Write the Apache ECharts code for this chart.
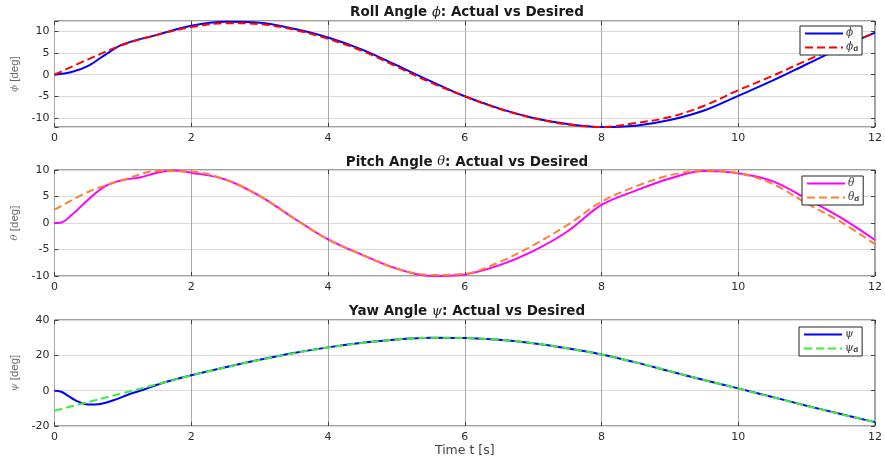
<!DOCTYPE html>
<html><head><meta charset="utf-8">
<script src="https://cdn.jsdelivr.net/npm/echarts@6/dist/echarts.min.js"></script>
<style>html,body{margin:0;padding:0;background:#fff}#c{width:885px;height:459px}</style>
</head><body><div id="c"></div><script>
// ---- data ----
const tCommon = [0,0.5,1,1.5,2,2.5,3,3.5,4,4.5,5,5.5,6,6.5,7,7.5,8,8.5,9,9.5,10,10.5,11,11.5,12];

const rollDesired = [0,3.6,6.9,9.2,11.0,11.9,11.7,10.4,8.3,5.5,1.9,-1.8,-5.0,-7.9,-10.0,-11.5,-12.1,-11.2,-9.8,-7.2,-3.6,-0.3,3.3,6.6,9.6];
const tRollActual = [0,0.25,0.5,0.75,1,1.5,2,2.5,3,3.5,4,4.5,5,5.5,6,6.5,7,7.5,8,8.5,9,9.5,10,10.5,11,11.5,12];
const rollActual = [0,0.6,2.1,4.7,7.0,9.2,11.3,12.2,12.0,10.6,8.6,5.8,2.2,-1.5,-5.0,-7.8,-10.0,-11.4,-12.1,-11.8,-10.5,-8.3,-4.9,-1.4,2.4,6.2,9.7];

const pitchDesired = [2.5,5.9,8.1,9.8,9.7,8.2,5.1,0.9,-3.1,-6.0,-8.6,-9.8,-9.6,-7.4,-4.2,-0.4,4.0,6.9,9.0,9.9,9.4,7.4,3.7,0.2,-4.0];
const tPitchActual = [0,0.1,0.25,0.5,0.75,1,1.25,1.5,1.75,2,2.5,3,3.5,4,4.5,5,5.5,6,6.5,7,7.5,8,8.5,9,9.5,10,10.5,11,11.5,12];
const pitchActual = [0,0.1,1.5,4.5,7.0,8.1,8.6,9.5,9.9,9.5,8.2,5.1,0.9,-3.1,-6.0,-8.6,-10.0,-9.7,-8.0,-5.3,-1.6,3.4,6.1,8.4,9.8,9.4,7.9,4.6,1.0,-3.2];

const yawDesired = [-11.4,-6.4,-1.4,3.6,8.6,13.2,17.4,21.2,24.4,27.0,28.9,30.0,29.8,28.8,26.9,24.0,20.5,16.0,11.0,6.0,1.2,-3.7,-8.6,-13.3,-17.8];
const tYawActual = [0,0.1,0.2,0.3,0.4,0.5,0.6,0.75,0.9,1.1,1.3,1.6,2,2.5,3,3.5,4,4.5,5,5.5,6,6.5,7,7.5,8,8.5,9,9.5,10,10.5,11,11.5,12];
const yawActual = [0,-0.6,-3.0,-5.4,-7.1,-7.9,-7.8,-6.8,-4.9,-1.9,0.5,4.6,8.7,13.3,17.5,21.3,24.5,27.1,29.0,30.0,29.8,28.8,26.9,24.0,20.5,16.0,11.0,6.0,1.3,-3.6,-8.5,-13.2,-17.8];

const xTicks = {min:0, max:12, interval:2};
const yRange = [{min:-12.1, max:12.4}, {min:-10, max:10, interval:5}, {min:-20, max:40, interval:20}];
const titles = [['Roll Angle ', 'ϕ'], ['Pitch Angle ', 'θ'], ['Yaw Angle ', 'ψ']];
const yNames = ['ϕ', 'θ', 'ψ'];
const legendNames = [['phi','phi_d'], ['theta','theta_d'], ['psi','psi_d']];
const legendGlyph = {phi:'ϕ', theta:'θ', psi:'ψ'};

// ---- layout ----
const FONT = 'DejaVu Sans, Liberation Sans, sans-serif';
const FONT2 = 'Liberation Sans, Arial, sans-serif';
const grids = [{top:21}, {top:170}, {top:320}].map(g => ({
  left:54.5, right:6, top:g.top, height:106, show:true, borderColor:'#404040', borderWidth:1, backgroundColor:'#fff'
}));
const xAxes = [], yAxes = [];
for (let i = 0; i < 3; i++) {
  xAxes.push({
    type:'value', gridIndex:i, ...xTicks,
    axisLine:{show:false, onZero:false},
    axisTick:{show:true, inside:true, length:4, lineStyle:{color:'#404040'}},
    axisLabel:{color:'#2a2a2a', fontSize:11, margin:6, fontFamily:FONT},
    splitLine:{show:true, lineStyle:{color:'#a8a8a8', width:1}},
    name: i === 2 ? 'Time t [s]' : '', nameLocation:'middle', nameGap:17,
    nameTextStyle:{color:'#444', fontSize:12.5, fontFamily:FONT}
  });
  xAxes.push({
    type:'value', gridIndex:i, position:'top', ...xTicks,
    axisLine:{show:false, onZero:false}, axisLabel:{show:false}, splitLine:{show:false},
    axisTick:{show:true, inside:true, length:4, lineStyle:{color:'#404040'}}
  });
  const r = yRange[i];
  yAxes.push({
    type:'value', gridIndex:i, ...r,
    axisLine:{show:false, onZero:false},
    axisTick:{show:true, inside:true, length:4, lineStyle:{color:'#404040'}},
    axisLabel:{color:'#2a2a2a', fontSize:11, margin:5, fontFamily:FONT,
      formatter: v => (Math.abs(v % 5) < 1e-6 ? String(Math.round(v)) : '')},
    splitLine:{show:true, lineStyle:{color:'#dadada', width:1}},
    name: '{g|' + yNames[i] + '} [deg]', nameLocation:'middle', nameGap:29,
    nameTextStyle:{color:'#666', fontSize:11.5, fontFamily:FONT2,
      rich:{g:{fontFamily:'DejaVu Serif', fontStyle:'italic', fontSize:10, color:'#777'}}}
  });
  yAxes.push({
    type:'value', gridIndex:i, position:'right', ...r,
    axisLine:{show:false, onZero:false}, axisLabel:{show:false}, splitLine:{show:false},
    axisTick:{show:true, inside:true, length:4, lineStyle:{color:'#404040'}}
  });
}

const pairs = (t, v) => t.map((x, k) => [x, v[k]]);
function line(name, idx, t, v, color, dashed) {
  return {
    name, type:'line', xAxisIndex:idx*2, yAxisIndex:idx*2, data:pairs(t, v),
    showSymbol:false, symbol:'none', smooth:0.35, clip:true, z: dashed ? 3 : 2,
    lineStyle:{color, width:2, type: dashed ? [8,4] : 'solid'},
    itemStyle:{color}, emphasis:{disabled:true}
  };
}
const series = [
  line('phi', 0, tRollActual, rollActual, '#0000ff', false),
  line('phi_d', 0, tCommon, rollDesired, '#ff0000', true),
  line('theta', 1, tPitchActual, pitchActual, '#ff00ff', false),
  line('theta_d', 1, tCommon, pitchDesired, '#ff8033', true),
  line('psi', 2, tYawActual, yawActual, '#0000ff', false),
  line('psi_d', 2, tCommon, yawDesired, '#3cf03c', true)
];

const legendPos = [{left:800, top:26}, {left:802, top:176}, {left:799, top:327}];
const legends = legendNames.map((names, i) => ({
  data:names, orient:'vertical', left:legendPos[i].left, top:legendPos[i].top,
  itemWidth:38, itemHeight:12, itemGap:2, padding:[2,4,2,4],
  itemStyle:{opacity:0, borderWidth:0},
  borderColor:'#222', borderWidth:1, backgroundColor:'#fff', selectedMode:false,
  formatter: n => n.endsWith('_d') ? '{g|' + legendGlyph[n.slice(0,-2)] + '}{s|d}' : '{g|' + legendGlyph[n] + '}',
  textStyle:{color:'#333', fontSize:11, fontFamily:FONT2, padding:[0,0,0,-2],
    rich:{g:{fontFamily:'DejaVu Serif', fontStyle:'italic', fontSize:10.5, color:'#333', verticalAlign:'middle'},
          s:{fontSize:8, fontWeight:'bold', color:'#333', verticalAlign:'bottom', lineHeight:8, padding:[4,0,0,0]}}}
}));

const titleY = [12.5, 162, 311.5];
const graphic = titles.map((t, i) => ({
  type:'text', x:467, y:titleY[i], silent:true,
  style:{text:'{b|' + t[0] + '}{i|' + t[1] + '}{b|: Actual vs Desired}', align:'center', verticalAlign:'middle',
    rich:{b:{font:'bold 13.5px DejaVu Sans', fill:'#1a1a1a'}, i:{font:'italic 13px DejaVu Serif', fill:'#1a1a1a'}}}
}));

const chart = echarts.init(document.getElementById('c'), null, {renderer:'canvas'});
chart.setOption({
  animation:false, backgroundColor:'#fff',
  grid:grids, xAxis:xAxes, yAxis:yAxes, series, legend:legends, graphic
});
</script></body></html>
